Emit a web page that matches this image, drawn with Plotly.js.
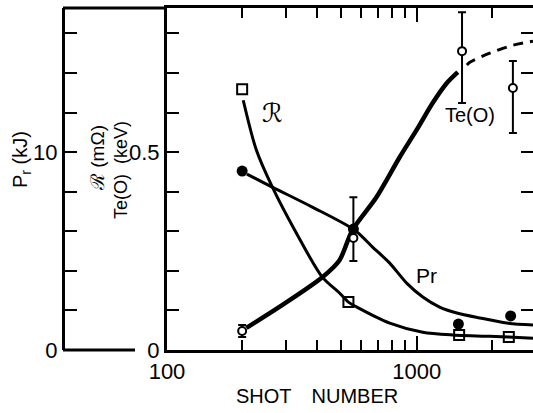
<!DOCTYPE html>
<html><head><meta charset="utf-8">
<script src="https://cdn.plot.ly/plotly-3.0.1.min.js"></script>
<style>html,body{margin:0;padding:0;background:#fff}#chart{width:533px;height:413px}</style>
</head><body><div id="chart"></div>
<script>
// ---- data ----
const rShot = [200, 533, 1480, 2340];
const rVal = [0.659, 0.121, 0.038, 0.033];
const rCurveShot = [202, 228, 264, 330, 419, 491, 533, 574, 780, 1058, 1395, 2337, 2925];
const rCurveVal = [0.631, 0.505, 0.412, 0.295, 0.184, 0.144, 0.121, 0.109, 0.068, 0.045, 0.038, 0.033, 0.030];

const prShot = [200, 558, 1470, 2380];
const prVal = [9.04, 6.11, 1.31, 1.72];
const prCurveShot = [209, 264, 382, 564, 666, 780, 912, 1058, 1236, 1449, 1791, 2297, 2925];
const prCurveVal = [8.89, 8.23, 7.22, 6.06, 5.20, 4.39, 3.38, 2.68, 2.17, 1.87, 1.62, 1.36, 1.26];

const teShot = [200, 558, 1520, 2430];
const teVal = [0.048, 0.283, 0.755, 0.662];
const teErrPlus = [0.015, 0.103, 0.098, 0.068];
const teErrMinus = [0.015, 0.058, 0.131, 0.114];
const teCurveShot = [208, 282, 419, 491, 553, 690, 855, 1000, 1159, 1319, 1462];
const teCurveVal = [0.056, 0.109, 0.184, 0.227, 0.303, 0.386, 0.487, 0.556, 0.624, 0.674, 0.702];
const teDashShot = [1589, 1633, 1963, 2432, 2925];
const teDashVal = [0.720, 0.727, 0.75, 0.770, 0.780];

const xMajor = [100, 1000];
const xMajorText = ['100', '1000'];
const xMinor = [200, 300, 400, 500, 600, 700, 800, 900, 2000, 3000];
const yTicks = [0, 0.1, 0.2, 0.3, 0.4, 0.5, 0.6, 0.7, 0.8];
const yTickText = ['0', ' ', ' ', ' ', ' ', '0.5', ' ', ' ', ' '];
const prTicks = [0, 2, 4, 6, 8, 10, 12, 14, 16];
const prTickText = ['0', ' ', ' ', ' ', ' ', '10', ' ', ' ', ' '];

const FONT = 'Liberation Sans, Arial, sans-serif';
const traces = [
  {x: rCurveShot, y: rCurveVal, mode: 'lines', line: {color: '#000', width: 3, shape: 'spline', smoothing: 0.8}, hoverinfo: 'skip'},
  {x: prCurveShot, y: prCurveVal, yaxis: 'y2', mode: 'lines', line: {color: '#000', width: 3, shape: 'spline', smoothing: 0.8}, hoverinfo: 'skip'},
  {x: teCurveShot, y: teCurveVal, mode: 'lines', line: {color: '#000', width: 4.5, shape: 'spline', smoothing: 0.8}, hoverinfo: 'skip'},
  {x: teDashShot, y: teDashVal, mode: 'lines', line: {color: '#000', width: 3, dash: '10px,7px', shape: 'spline', smoothing: 0.8}, hoverinfo: 'skip'},
  {x: rShot, y: rVal, mode: 'markers', marker: {symbol: 'square-open', size: 10, color: '#000', line: {width: 2}}},
  {x: prShot, y: prVal, yaxis: 'y2', mode: 'markers', marker: {symbol: 'circle', size: 11, color: '#000'}},
  {x: teShot, y: teVal, mode: 'markers',
   marker: {symbol: 'circle', size: 8, color: '#fff', line: {color: '#000', width: 2}},
   error_y: {type: 'data', symmetric: false, array: teErrPlus, arrayminus: teErrMinus, color: '#000', thickness: 2, width: 4}}
];

function ann(px, py, text, size, extra) {
  return Object.assign({xref: 'paper', yref: 'paper', x: px/533, y: (350-py)/342, text: text,
    xanchor: 'center', yanchor: 'middle', showarrow: false, font: {size: size, family: FONT, color: '#000'}}, extra || {});
}

const layout = {
  width: 533, height: 413,
  margin: {l: 0, r: 0, t: 8, b: 63},
  paper_bgcolor: '#fff', plot_bgcolor: '#fff',
  showlegend: false,
  font: {family: FONT, color: '#000', size: 21},
  xaxis: {
    type: 'log', domain: [167/533, 1], range: [2, Math.log10(2925)],
    tickmode: 'array', tickvals: xMajor, ticktext: xMajorText,
    ticks: 'inside', ticklen: 14, tickwidth: 2, tickcolor: '#000',
    minor: {tickmode: 'array', tickvals: xMinor, ticks: 'inside', ticklen: 10, tickwidth: 2, tickcolor: '#000'},
    showline: true, linewidth: 3, linecolor: '#000', mirror: 'ticks',
    showgrid: false, zeroline: false,
    tickfont: {size: 22, family: FONT}
  },
  yaxis: {
    range: [0, 0.864], tickmode: 'array', tickvals: yTicks, ticktext: yTickText,
    ticks: 'inside', ticklen: 12, tickwidth: 2, tickcolor: '#000',
    showline: true, linewidth: 3, linecolor: '#000', mirror: 'ticks',
    showgrid: false, zeroline: false,
    tickfont: {size: 22, family: FONT}
  },
  yaxis2: {
    overlaying: 'y', anchor: 'free', side: 'left', position: 63/533,
    range: [0, 17.28], tickmode: 'array', tickvals: prTicks, ticktext: prTickText,
    ticks: 'inside', ticklen: 12, tickwidth: 2, tickcolor: '#000',
    showline: true, linewidth: 3, linecolor: '#000',
    showgrid: false, zeroline: false,
    tickfont: {size: 22, family: FONT}
  },
  shapes: [
    {type: 'line', xref: 'paper', yref: 'paper', x0: 63/533, x1: 167/533, y0: 1, y1: 1, line: {color: '#000', width: 3}},
    {type: 'line', xref: 'paper', yref: 'paper', x0: 63/533, x1: 135/533, y0: 0, y1: 0, line: {color: '#000', width: 3}}
  ],
  annotations: [
    ann(21, 160, 'P<sub>r</sub> (kJ)', 20, {textangle: -90}),
    ann(97, 158, 'ℛ (mΩ)', 19, {textangle: -90}),
    ann(121, 170, 'Te(O)  (keV)', 18, {textangle: -90}),
    ann(317, 396, 'SHOT\u2003NUMBER', 20),
    ann(272, 113, '<i>ℛ</i>', 26, {font: {size: 26, family: 'DejaVu Serif, DejaVu Sans, serif', color: '#000'}}),
    ann(426, 275, 'Pr', 21),
    ann(470, 115, 'Te(O)', 20)
  ]
};
Plotly.newPlot('chart', traces, layout, {staticPlot: true, displayModeBar: false});
</script></body></html>
